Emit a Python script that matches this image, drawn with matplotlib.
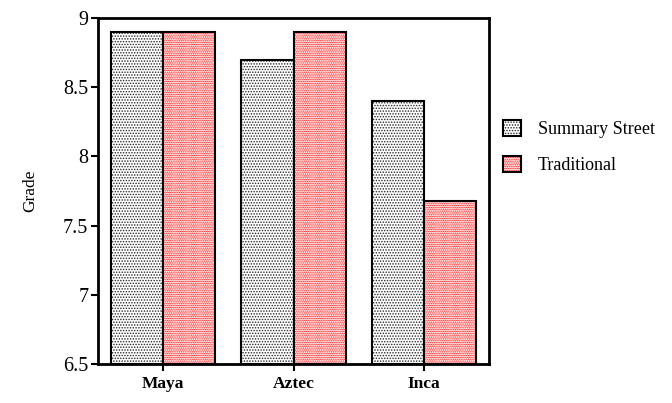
import numpy as np
import matplotlib
matplotlib.use('Agg')
import matplotlib.pyplot as plt
from matplotlib.patches import Patch
from matplotlib.legend_handler import HandlerTuple

plt.rcParams['font.family'] = ['Liberation Serif', 'DejaVu Serif']
plt.rcParams['hatch.linewidth'] = 0.7

categories = ['Maya', 'Aztec', 'Inca']
summary_street = [8.9, 8.7, 8.4]
traditional = [8.9, 8.9, 7.68]
series_names = ['Summary Street', 'Traditional']

x = np.arange(1, len(categories) + 1)
w = 0.4
bottom = 6.5
styles = [('0.15', '......'), ('red', '.........')]

fig = plt.figure(figsize=(6.72, 4.03), dpi=100)
ax = fig.add_axes([98 / 672, 1 - 364 / 403, 391 / 672, 346 / 403])

# dotted fills first, black outlines on top
for vals, off, (col, hatch) in zip([summary_street, traditional], [-w / 2, w / 2], styles):
    h = np.array(vals) - bottom
    ax.bar(x + off, h, w, bottom=bottom, color='white', edgecolor=col,
           hatch=hatch, linewidth=0)
    ax.bar(x + off, h, w, bottom=bottom, fill=False, edgecolor='black',
           linewidth=1.5)

ax.set_xlim(0.5, 3.5)
ax.set_ylim(6.5, 9)
ax.set_yticks([6.5, 7, 7.5, 8, 8.5, 9])
ax.set_yticklabels(['6.5', '7', '7.5', '8', '8.5', '9'])
ax.set_xticks(x)
ax.set_xticklabels(categories, fontweight='bold')
ax.tick_params(direction='out', length=5, width=1.5, labelsize=12.5)
ax.tick_params(axis='y', labelsize=14.5, pad=2)
for s in ax.spines.values():
    s.set_linewidth(2)
ax.set_ylabel('Grade', fontsize=12.5, labelpad=18)

handles = []
for col, hatch in styles:
    fillp = Patch(facecolor='white', edgecolor=col, hatch=hatch, linewidth=0)
    edge = Patch(fill=False, edgecolor='black', linewidth=1.5)
    handles.append((fillp, edge))
fig.legend(handles, series_names, handler_map={tuple: HandlerTuple(ndivide=1)},
           loc='center left', bbox_to_anchor=(487 / 672, 1 - 147 / 403),
           frameon=False, fontsize=13, handlelength=1.0, handleheight=1.0,
           handletextpad=0.9, labelspacing=1.0)

fig.savefig('out.png', dpi=100)
